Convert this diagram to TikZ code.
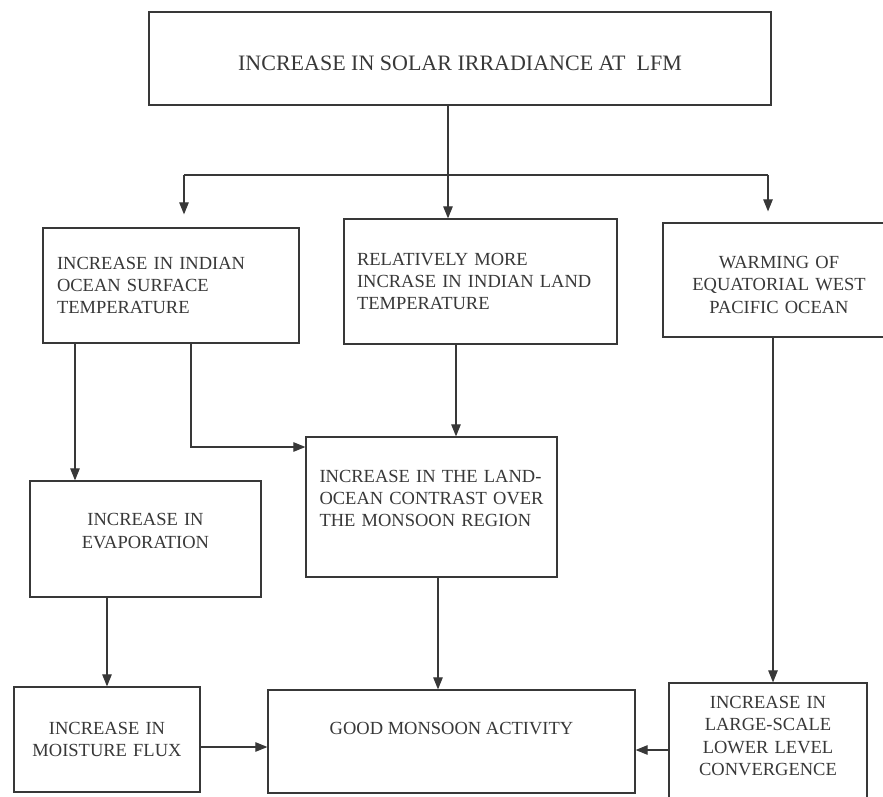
\documentclass[tikz,border=0pt]{standalone}
\usepackage{fontspec}
\setmainfont{Liberation Serif}
\usetikzlibrary{arrows.meta,calc}
\hfuzz=60pt
\hbadness=10000
\definecolor{ink}{HTML}{383838}
\begin{document}
\begin{tikzpicture}[x=1pt,y=-1pt,
  box/.style={draw=ink, line width=1.25pt, inner sep=0pt, text=ink,
    font=\fontsize{18.5}{22.3}\selectfont},
  arr/.style={draw=ink, line width=1.05pt, -{Triangle[length=12pt,width=9.5pt]}},
  ln/.style={draw=ink, line width=1.05pt}]
\path[use as bounding box] (0,0) rectangle (883,797);
\clip (0,0) rectangle (883,797);
\fill[white] (0,0) rectangle (883,797);

% boxes
\node[box, minimum width=622pt, minimum height=93pt, text height=23.4pt,
  font=\fontsize{22}{26}\selectfont] (top) at (460,58.5)
  {INCREASE IN SOLAR IRRADIANCE AT~ LFM};
\node[box, minimum width=256pt, minimum height=115pt, text width=228pt, align=left]
  (A) at (171,285.5) {\mbox{INCREASE IN INDIAN}\\\mbox{OCEAN SURFACE}\\\mbox{TEMPERATURE}};
\node[box, minimum width=273pt, minimum height=125pt, text width=247pt, align=left]
  (B) at (480.5,281.5) {\mbox{RELATIVELY MORE}\\\mbox{INCRASE IN INDIAN LAND}\\\mbox{TEMPERATURE}};
\node[box, minimum width=232pt, minimum height=114pt, text width=212pt, align=center,
  text height=22.1pt]
  (C) at (779,280) {WARMING OF\\EQUATORIAL WEST\\PACIFIC OCEAN};
\node[box, minimum width=231pt, minimum height=116pt, text width=200pt, align=center,
  text depth=38.3pt]
  (D) at (145.5,539) {INCREASE IN\\EVAPORATION};
\node[box, minimum width=251pt, minimum height=140pt, text width=224pt, align=left,
  text depth=61.6pt]
  (E) at (431.5,507) {\mbox{INCREASE IN THE LAND-}\\\mbox{OCEAN CONTRAST OVER}\\\mbox{THE MONSOON REGION}};
\node[box, minimum width=186pt, minimum height=105pt, text width=170pt, align=center]
  (F) at (107,739.5) {INCREASE IN\\MOISTURE FLUX};
\node[box, minimum width=367pt, minimum height=103pt, text depth=27pt]
  (G) at (451.5,741.5) {GOOD MONSOON ACTIVITY};
\node[box, minimum width=198pt, minimum height=117pt, text width=184pt, align=center,
  text depth=77.9pt]
  (H) at (768,741.5) {INCREASE IN\\LARGE-SCALE\\LOWER LEVEL\\CONVERGENCE};

% branch coordinates
\coordinate (br) at (448,175);
\coordinate (bl) at (184,175);
\coordinate (bR) at (768,175);
\coordinate (ad) at (75,0);
\coordinate (ae) at (191,447);
\coordinate (be) at (456,0);
\coordinate (ch) at (773,0);
\coordinate (df) at (107,0);
\coordinate (eg) at (438,0);
\coordinate (fg) at (0,747);
\coordinate (hg) at (0,750);

% connectors
\draw[arr] (top.south -| br) -- (B.north -| br);
\draw[ln] (bl) -- (bR);
\draw[arr, shorten >=13pt] (bl) -- (bl |- A.north);
\draw[arr, shorten >=11pt] (bR) -- (bR |- C.north);
\draw[arr] (A.south -| ad) -- (D.north -| ad);
\draw[arr] (A.south -| ae) -- (ae) -- (E.west |- ae);
\draw[arr] (B.south -| be) -- (E.north -| be);
\draw[arr] (C.south -| ch) -- (H.north -| ch);
\draw[arr] (D.south -| df) -- (F.north -| df);
\draw[arr] (E.south -| eg) -- (G.north -| eg);
\draw[arr] (F.east |- fg) -- (G.west |- fg);
\draw[arr] (H.west |- hg) -- (G.east |- hg);
\end{tikzpicture}
\end{document}
